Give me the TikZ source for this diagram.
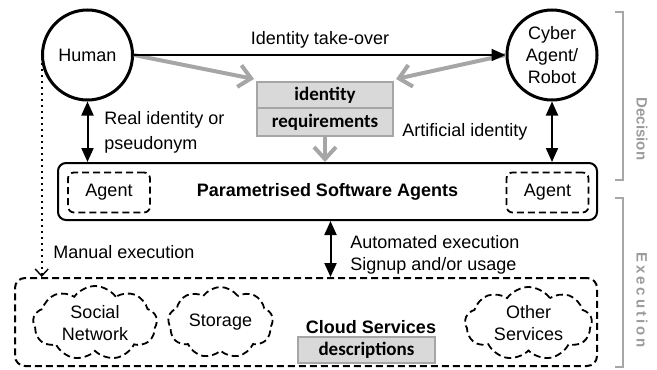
\documentclass[tikz,border=0pt]{standalone}
\usepackage{fontspec}
\setmainfont{Liberation Sans}
\newfontfamily\calibri{Carlito}
\usetikzlibrary{arrows.meta,shapes.symbols}

\definecolor{boxfill}{HTML}{D9D9D9}
\definecolor{boxline}{HTML}{A6A6A6}
\definecolor{sidetext}{HTML}{9C9C9C}
\newcommand\lsp{\kern1.5pt}

\begin{document}
\begin{tikzpicture}[x=0.5pt,y=-0.5pt,
  every node/.style={font=\fontsize{9}{11}\selectfont},
  actor/.style={circle,draw,line width=1.5pt,minimum size=45pt,inner sep=0pt,align=center},
  reqbox/.style={rectangle,draw=boxline,fill=boxfill,line width=1pt,inner sep=0pt,
    font=\calibri\bfseries\fontsize{9.5}{11}\selectfont},
  mainbox/.style={rectangle,draw,line width=1pt,rounded corners=4pt,inner sep=0pt},
  agentbox/.style={rectangle,draw,line width=0.9pt,dash pattern=on 3.5pt off 2pt,
    rounded corners=3pt,minimum width=41pt,minimum height=20pt,inner sep=0pt},
  svccloud/.style={cloud,draw,line width=0.9pt,dash pattern=on 3.5pt off 2pt,
    cloud puffs=9,cloud puff arc=110,cloud ignores aspect,inner sep=0pt,align=center},
  lbl/.style={inner sep=0pt,anchor=west,align=left},
  blackarrow/.style={line width=1pt,{Triangle[length=7pt,width=6pt]}-{Triangle[length=7pt,width=6pt]}},
  onearrow/.style={line width=1pt,-{Triangle[length=7pt,width=6pt]}},
  grayarrow/.style={draw=boxline,line width=2pt,-{Straight Barb[length=6pt,width=11pt]}},
  bracket/.style={draw=boxline,line width=0.8pt},
  sidelabel/.style={rotate=-90,text=sidetext,font=\bfseries\fontsize{7.5}{9}\selectfont}]

\useasboundingbox (0,0) rectangle (657,369);

% actors
\node[actor] (human) at (87.5,55) {Human};
\node[actor] (cyber) at (552,55) {Cyber\\Agent/\\Robot};

% identity requirements
\node[reqbox,minimum width=68pt,minimum height=13pt] (idreq1) at (325,95) {identity};
\node[reqbox,minimum width=68pt,minimum height=14pt] (idreq2) at (325,122) {requirements};

% software agents layer
\node[mainbox,minimum width=269.5pt,minimum height=28.5pt] (param) at (327.5,191.5)
  {\bfseries Parametrised Software Agents};
\node[agentbox] (agentL) at (109,192.5) {Agent};
\node[agentbox] (agentR) at (547.5,192.5) {Agent};

% cloud services layer
\node[mainbox,minimum width=291pt,minimum height=44pt,dash pattern=on 3.5pt off 2pt,
  rounded corners=5pt] (cloudbox) at (306,322) {};
\node[svccloud,minimum width=62pt,minimum height=37pt] (social) at (95,323) {Social\\Network};
\node[svccloud,minimum width=52.5pt,minimum height=35.5pt] (storage) at (220.5,322.5) {Storage};
\node[svccloud,minimum width=63.5pt,minimum height=36.5pt] (other) at (528.5,323.5) {Other\\Services};
\node[inner sep=0pt] (cloudtitle) at (371,327) {\bfseries Cloud Services};
\node[reqbox,minimum width=68.5pt,minimum height=13pt] (descr) at (366.5,350) {descriptions};

% connectors
\draw[grayarrow] (human.east) -- ([shift={(-2,-2)}]idreq1.north west);
\draw[grayarrow] (cyber.west) -- ([shift={(2,-2)}]idreq1.north east);
\draw[grayarrow] (idreq2.south) -- (idreq2.south |- param.north);
\draw[onearrow] (human.east) -- (cyber.west);
\draw[blackarrow] (human.south) -- (human.south |- param.north);
\draw[blackarrow] (cyber.south) -- (cyber.south |- param.north);
\draw[blackarrow] ([xshift=1.5]param.south) -- ([xshift=1.5]param.south |- cloudbox.north);
\draw[line width=1pt,dotted,-{Straight Barb[length=3.5pt,width=6.5pt,line width=0.7pt]}]
  (human.190) -- (human.190 |- cloudbox.north);

% labels
\node[inner sep=0pt] (ltake) at (320,40) {Identity take-over};
\node[lbl,font=\fontsize{9}{12.5}\selectfont] (lreal) at (104,132.5) {Real identity or\\pseudonym};
\node[lbl] (lart) at (402,132) {Artificial identity};
\node[lbl] (lman) at (53,252) {Manual execution};
\node[lbl] (lauto) at (350,255) {Automated execution\\Signup and/or usage};

% phase brackets
\draw[bracket] (615,12) -- (623,12) -- (623,180) -- (615,180);
\draw[bracket] (615,198) -- (623,198) -- (623,367) -- (615,367);
\node[sidelabel] (ldec) at (642,129) {Decision};
\node[sidelabel] (lexe) at (642,300) {E\lsp x\lsp e\lsp c\lsp u\lsp t\lsp i\lsp o\lsp n};

\end{tikzpicture}
\end{document}
